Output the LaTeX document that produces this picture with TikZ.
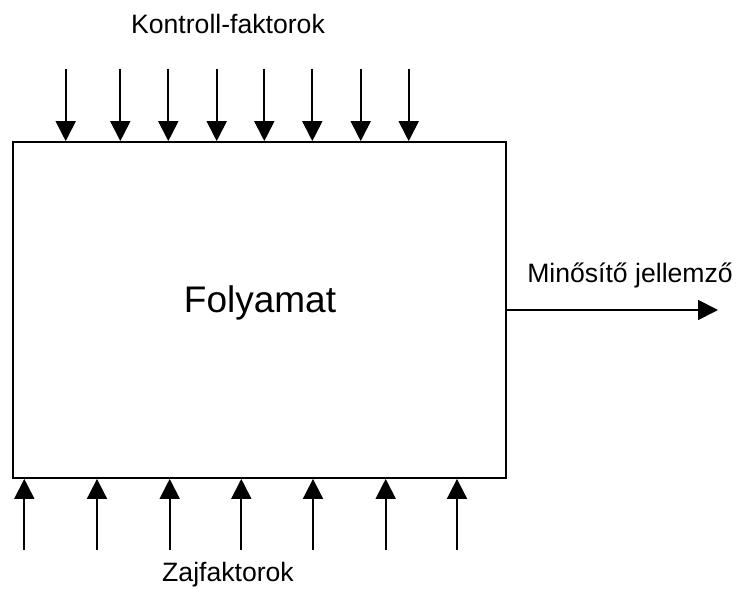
\documentclass[tikz,border=0pt]{standalone}
\usepackage{fontspec}
\setmainfont{Liberation Sans}
\usetikzlibrary{arrows.meta}
\begin{document}
\begin{tikzpicture}[x=1pt,y=1pt,
  arr/.style={line width=1.8pt,-{Triangle[length=20pt,width=20pt]}},
  lbl/.style={font=\fontsize{26.6}{32}\selectfont, inner sep=0pt}]
\useasboundingbox (0,0) rectangle (739,589);
\node[draw, line width=1.8pt, minimum width=493pt, minimum height=336pt, inner sep=0pt] (box) at (259.5,279) {};
\node[font=\fontsize{37}{44}\selectfont, inner sep=0pt] (folyamat) at (260,286) {Folyamat};
\node[lbl] (ktr) at (228,565) {Kontroll-faktorok};
\node[lbl] (zaj) at (228,14) {Zajfaktorok};
\node[lbl] (min) at (630,314) {Minősítő jellemző};
% top arrows
\foreach \i/\x in {1/65.7,2/120.3,3/168.3,4/216.7,5/264.3,6/312.3,7/360.7,8/408.7}{
  \coordinate (t\i) at (\x,520);
  \draw[arr] (t\i) -- (t\i |- box.north);
}
% bottom arrows
\foreach \i/\x in {1/24.3,2/97,3/169.7,4/241.3,5/313,6/385.7,7/457}{
  \coordinate (b\i) at (\x,39);
  \draw[arr] (b\i) -- (b\i |- box.south);
}
\coordinate (out) at (718,279);
\draw[arr] (box.east |- out) -- (out);
\end{tikzpicture}
\end{document}
